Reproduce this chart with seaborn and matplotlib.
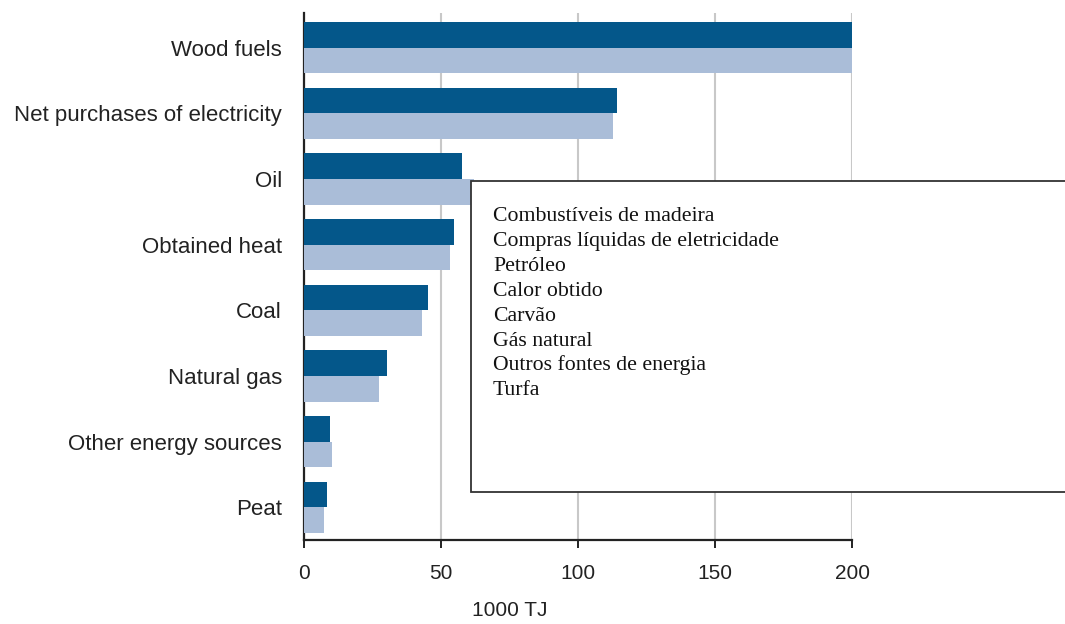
import matplotlib
matplotlib.use("Agg")
import matplotlib.pyplot as plt
import seaborn as sns
import pandas as pd
from matplotlib.patches import Rectangle

# ---- data ----
categories = ["Wood fuels", "Net purchases of electricity", "Oil", "Obtained heat",
              "Coal", "Natural gas", "Other energy sources", "Peat"]
series_names = ["Series 1", "Series 2"]
series1 = [200, 114.4, 57.5, 54.7, 45.1, 30.2, 9.6, 8.3]
series2 = [200, 112.8, 62.0, 53.3, 43.2, 27.4, 10.3, 7.4]
x_ticks = [0, 50, 100, 150, 200]
x_label = "1000 TJ"
pt_labels = ["Combustíveis de madeira", "Compras líquidas de eletricidade", "Petróleo",
             "Calor obtido", "Carvão", "Gás natural", "Outros fontes de energia", "Turfa"]

df = pd.DataFrame({
    "category": categories * 2,
    "value": series1 + series2,
    "series": [series_names[0]] * len(categories) + [series_names[1]] * len(categories),
})

sns.set_theme(style="white")
plt.rcParams["font.family"] = ["Liberation Sans", "DejaVu Sans"]

W, H = 1065, 624
fig = plt.figure(figsize=(W / 100, H / 100), dpi=100)
ax = fig.add_axes([304 / W, 1 - 540 / H, (852 - 304) / W, (540 - 13) / H])

sns.barplot(data=df, y="category", x="value", hue="series", order=categories,
            hue_order=series_names, palette=["#04578A", "#AABDD8"], orient="h",
            width=0.78, gap=0, saturation=1, ax=ax, legend=False, errorbar=None,
            edgecolor="none", zorder=3)

ax.set_xlim(0, 200)
ax.set_ylim(7.5, -0.53)
ax.set_xticks(x_ticks)
ax.set_xticklabels([str(t) for t in x_ticks])
ax.set_xlabel("")
ax.set_ylabel("")
ax.grid(axis="x", color="#c8c8c8", linewidth=1.5, zorder=0)
ax.grid(axis="y", visible=False)
ax.set_axisbelow(True)
for s in ["top", "right"]:
    ax.spines[s].set_visible(False)
for s in ["left", "bottom"]:
    ax.spines[s].set_color("#222222")
    ax.spines[s].set_linewidth(1.6)
ax.tick_params(axis="x", which="major", bottom=True, length=6, width=1.4,
               color="#222222", labelsize=15, labelcolor="#222222", pad=11)
ax.tick_params(axis="y", left=False, labelsize=16, labelcolor="#222222", pad=10)

fig.text(510 / W, 1 - 610 / H, x_label, ha="center", va="center",
         fontsize=15, color="#222222")

# overlay box with Portuguese translations
box = Rectangle((471 / W, 1 - 492 / H), 0.6, (492 - 181) / H,
                transform=fig.transFigure, facecolor="white",
                edgecolor="#333333", linewidth=1.3, zorder=10)
fig.patches.append(box)
for i, lab in enumerate(pt_labels):
    fig.text(493 / W, 1 - (221 + 24.9 * i) / H, lab, ha="left", va="baseline",
             fontsize=15.7, family=["Liberation Serif", "DejaVu Serif"],
             color="#111111", zorder=11)

fig.savefig("out.png", dpi=100)
